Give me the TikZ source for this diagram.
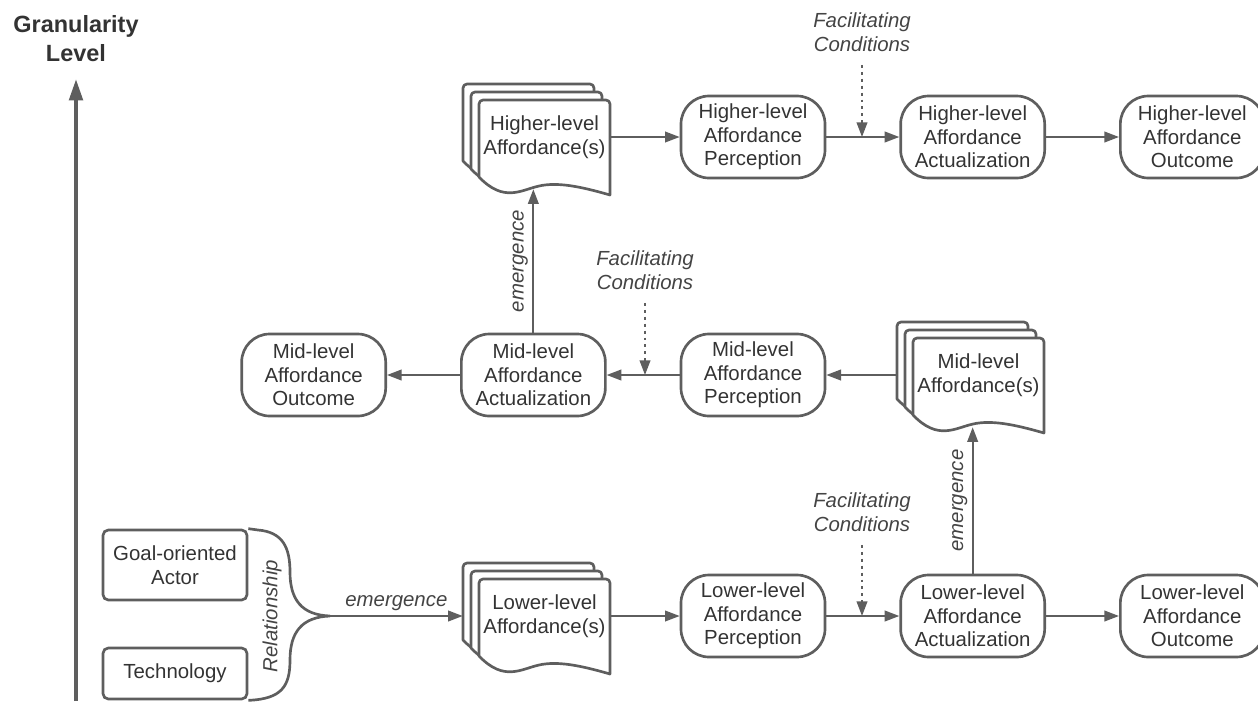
\documentclass[tikz,border=0pt]{standalone}
\usepackage{fontspec}
\setmainfont{Liberation Sans}
\usetikzlibrary{arrows.meta,positioning}
\definecolor{lineGray}{HTML}{5E5E5E}
\definecolor{textGray}{HTML}{333333}
\definecolor{tagGray}{HTML}{444444}

% stacked affordance documents: name, x, y, text
\newcommand{\affdocs}[4]{%
  \foreach \d in {16,8,0}
    \draw[sheet,shift={(#2-57-\d,#3-37-\d)}] (0,77) [rounded corners=3pt]-- (0,0) -- (131,0) [sharp corners]-- (131,95)
      .. controls (100,86) and (78,82) .. (60,86) .. controls (42,90) and (25,103) .. (0,77) -- cycle;
  \node[doctext] (#1) at (#2+8.5,#3) {#4};}

\begin{document}
\begin{tikzpicture}[x=0.75pt,y=-0.75pt,font=\fontsize{15.3}{17.6}\selectfont,
 >={Triangle[length=11pt,width=8pt]},node distance=54.75pt,
 stage/.style={draw=lineGray,line width=2pt,rounded corners=21pt,minimum width=108pt,minimum height=61.5pt,align=center,inner sep=2pt,text=textGray},
 entity/.style={draw=lineGray,line width=2pt,rounded corners=4pt,minimum width=108pt,minimum height=52.5pt,align=center,text=textGray},
 sheet/.style={draw=lineGray,line width=2pt,fill=white,line join=round},
 doctext/.style={minimum width=98.25pt,minimum height=78pt,inner sep=0pt,align=center,text=textGray},
 flow/.style={->,draw=lineGray,line width=1.4pt},
 facil/.style={->,draw=lineGray,line width=1.4pt,dash pattern=on 2.2pt off 3pt,shorten <=10pt},
 fcond/.style={font=\itshape\fontsize{15.3}{17.6}\selectfont,text=tagGray,align=center,inner sep=0pt},
 tag/.style={font=\itshape\fontsize{15.3}{17.6}\selectfont,text=tagGray}]
\useasboundingbox (0,0) rectangle (1258,701);

% granularity axis
\node[font=\bfseries\fontsize{17.6}{21.75}\selectfont,align=center,text=textGray] (gran) at (76,39) {Granularity\\Level};
\coordinate (axbot) at (76,701);
\coordinate (axtop) at (76,79);
\draw[-{Triangle[length=16pt,width=10pt]},line width=3pt,lineGray] (axbot) -- (axtop);

% higher level
\affdocs{hdoc}{536}{137}{Higher-level\\Affordance(s)}
\node[stage] (hper) at (753,137) {Higher-level\\Affordance\\Perception};
\node[stage,right=of hper] (hact) {Higher-level\\Affordance\\Actualization};
\node[stage,right=of hact] (hout) {Higher-level\\Affordance\\Outcome};
\node[fcond] (fch) at (862,32) {Facilitating\\Conditions};

% mid level
\affdocs{mdoc}{970}{375}{Mid-level\\Affordance(s)}
\node[stage] (mper) at (753,375) {Mid-level\\Affordance\\Perception};
\node[stage,left=of mper] (mact) {Mid-level\\Affordance\\Actualization};
\node[stage,left=of mact] (mout) {Mid-level\\Affordance\\Outcome};
\node[fcond] (fcm) at (645,270) {Facilitating\\Conditions};

% lower level
\node[entity] (actor) at (175,565) {Goal-oriented\\Actor};
\node[entity,minimum height=38.25pt] (tech) at (175,673.5) {Technology};
\coordinate (relpt) at (330,616);
\draw[lineGray,line width=2pt] (actor.north east) -- (258,530) .. controls (283,532) and (290,548) .. (290,572)
  .. controls (290,600) and (302,615) .. (relpt) .. controls (302,617) and (290,632) .. (290,660)
  .. controls (290,686) and (282,699) .. (tech.south east);
\node[tag,rotate=90] (rel) at (272,616) {Relationship};
\affdocs{ldoc}{536}{616}{Lower-level\\Affordance(s)}
\node[stage] (lper) at (753,616) {Lower-level\\Affordance\\Perception};
\node[stage,right=of lper] (lact) {Lower-level\\Affordance\\Actualization};
\node[stage,right=of lact] (lout) {Lower-level\\Affordance\\Outcome};
\node[fcond] (fcl) at (862,512) {Facilitating\\Conditions};

% connectors
\draw[flow] (hdoc.east) -- (hper.west);
\draw[flow] (hper) -- (hact);
\draw[flow] (hact) -- (hout);
\draw[facil] (fch) -- (fch |- hact);
\draw[flow] ([xshift=-12pt]mdoc.west) -- (mper);
\draw[flow] (mper) -- (mact);
\draw[flow] (mact) -- (mout);
\draw[facil] (fcm) -- (fcm |- mact);
\draw[flow] (mact) -- (mact.north |- hdoc.south) node[midway,above,sloped,tag] {emergence};
\draw[flow] (relpt) -- ([xshift=-12pt]ldoc.west) node[midway,above,tag] {emergence};
\draw[flow] (ldoc.east) -- (lper.west);
\draw[flow] (lper) -- (lact);
\draw[flow] (lact) -- (lout);
\draw[facil] (fcl) -- (fcl |- lact);
\draw[flow] (lact) -- (lact.north |- mdoc.south) node[midway,above,sloped,tag] {emergence};
\end{tikzpicture}
\end{document}
